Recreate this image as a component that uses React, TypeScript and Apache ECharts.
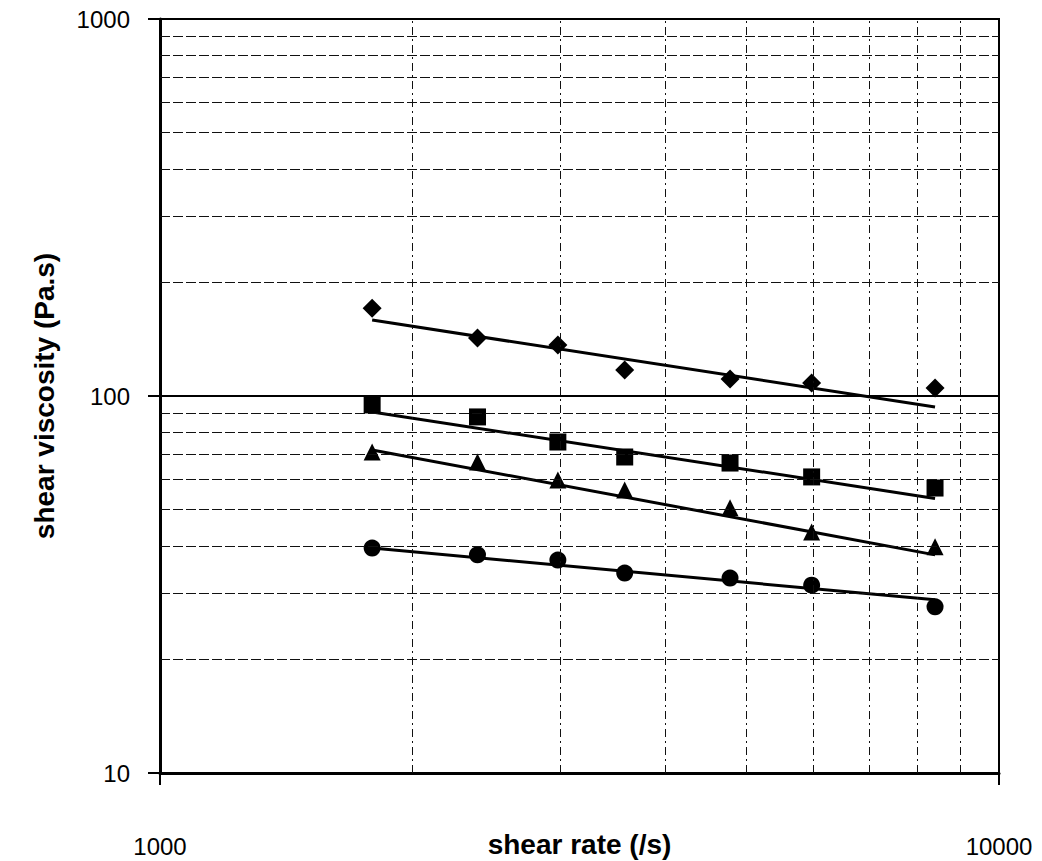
import React, { useEffect, useRef } from "react";
import * as echarts from "echarts";

// shear rate (/s) of the measured points
const shearRate = [1790, 2390, 2980, 3580, 4780, 5980, 8390];
// shear viscosity (Pa.s) for each sample
const diamondVisc = [171, 142.5, 136.6, 117.2, 110.9, 108.3, 105];
const squareVisc = [94.7, 88, 75.5, 68.9, 66.4, 61, 57];
const triangleVisc = [71, 66.8, 59.9, 56.3, 50.5, 43.6, 39.8];
const circleVisc = [39.5, 37.9, 36.7, 33.9, 32.9, 31.5, 27.6];

// power-law trend lines (end points)
const trendRate = [1790, 8390];
const diamondTrend = [159, 93.5];
const squareTrend = [90.7, 53.5];
const triangleTrend = [71.9, 37.9];
const circleTrend = [39.5, 28.8];

// minor gridlines
const yMinorGrid = [20, 30, 40, 50, 60, 70, 80, 90, 200, 300, 400, 500, 600, 700, 800, 900];
const xMinorGrid = [2000, 3000, 4000, 5000, 6000, 7000, 8000, 9000];

const FONT = "'Liberation Sans', Arial, sans-serif";

function pairs(xs: number[], ys: number[]) {
  return xs.map((x, i) => [x, ys[i]]);
}

export default function App() {
  const ref = useRef<HTMLDivElement>(null);
  useEffect(() => {
    document.body.style.margin = "0";
    const chart = echarts.init(ref.current!, null, { renderer: "svg" });
    const trendStyle = { color: "#000", width: 3 };
    const markerStyle = { color: "#000", opacity: 1 };
    const option: any = {
      animation: false,
      backgroundColor: "#fff",
      grid: {
        left: 160,
        top: 19,
        width: 839,
        height: 754,
        show: true,
        borderColor: "#000",
        borderWidth: 2,
        containLabel: false,
        outerBoundsMode: "none",
      },
      xAxis: {
        type: "log",
        logBase: 10,
        min: 1000,
        max: 10000,
        name: "shear rate (/s)",
        nameLocation: "middle",
        nameGap: 57,
        nameMoveOverlap: false,
        nameTextStyle: { fontFamily: FONT, fontSize: 28, fontWeight: "bold", color: "#000" },
        axisLine: { show: true, lineStyle: { color: "#000", width: 3 } },
        axisTick: { show: true, length: 12, lineStyle: { color: "#000", width: 2 } },
        axisLabel: {
          margin: 61,
          fontFamily: FONT,
          fontSize: 24,
          color: "#000",
          formatter: (v: number) => String(Math.round(v)),
        },
        splitLine: { show: false },
      },
      yAxis: {
        type: "log",
        logBase: 10,
        min: 10,
        max: 1000,
        name: "shear viscosity (Pa.s)",
        nameLocation: "middle",
        nameGap: 102,
        nameRotate: 90,
        nameMoveOverlap: false,
        nameTextStyle: { fontFamily: FONT, fontSize: 28, fontWeight: "bold", color: "#000" },
        axisLine: { show: true, lineStyle: { color: "#000", width: 3 } },
        axisTick: { show: true, length: 12, lineStyle: { color: "#000", width: 2 } },
        axisLabel: {
          margin: 30,
          fontFamily: FONT,
          fontSize: 24,
          color: "#000",
          formatter: (v: number) => String(Math.round(v)),
        },
        splitLine: { show: true, lineStyle: { color: "#000", width: 2 } },
      },
      series: [
        {
          type: "line",
          data: [],
          silent: true,
          markLine: {
            silent: true,
            symbol: ["none", "none"],
            label: { show: false },
            lineStyle: { color: "#111", width: 1, type: [10, 3] },
            data: yMinorGrid.map((v) => ({ yAxis: v })),
          },
        },
        {
          type: "line",
          data: [],
          silent: true,
          markLine: {
            silent: true,
            symbol: ["none", "none"],
            label: { show: false },
            lineStyle: { color: "#111", width: 1, type: [8, 4, 2, 4] },
            data: xMinorGrid.map((v) => ({ xAxis: v })),
          },
        },
        { type: "line", data: pairs(trendRate, diamondTrend), showSymbol: false, lineStyle: trendStyle, z: 3 },
        { type: "line", data: pairs(trendRate, squareTrend), showSymbol: false, lineStyle: trendStyle, z: 3 },
        { type: "line", data: pairs(trendRate, triangleTrend), showSymbol: false, lineStyle: trendStyle, z: 3 },
        { type: "line", data: pairs(trendRate, circleTrend), showSymbol: false, lineStyle: trendStyle, z: 3 },
        { type: "scatter", data: pairs(shearRate, diamondVisc), symbol: "diamond", symbolSize: [19, 19], itemStyle: markerStyle, z: 4 },
        { type: "scatter", data: pairs(shearRate, squareVisc), symbol: "rect", symbolSize: 17, itemStyle: markerStyle, z: 4 },
        { type: "scatter", data: pairs(shearRate, triangleVisc), symbol: "triangle", symbolSize: 17, itemStyle: markerStyle, z: 4 },
        { type: "scatter", data: pairs(shearRate, circleVisc), symbol: "circle", symbolSize: 17, itemStyle: markerStyle, z: 4 },
      ],
    };
    chart.setOption(option);
    return () => chart.dispose();
  }, []);
  return <div ref={ref} style={{ width: 1042, height: 861 }} />;
}
